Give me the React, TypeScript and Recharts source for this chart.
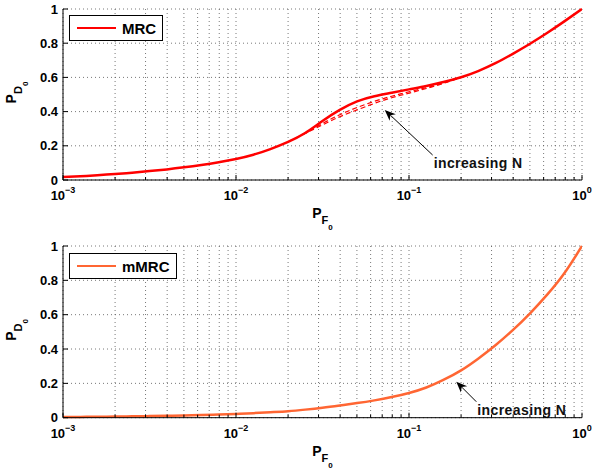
import React from "react";
import {
  LineChart,
  Line,
  XAxis,
  YAxis,
  CartesianGrid,
  ReferenceLine,
} from "recharts";

// P_F0 grid used for the curves (ten points per decade)
const pf = [
  0.001, 0.00126, 0.00158, 0.002, 0.00251, 0.00316, 0.00398, 0.00501, 0.00631,
  0.00794, 0.01, 0.0126, 0.0158, 0.02, 0.0251, 0.0316, 0.0398, 0.0501, 0.0631,
  0.0794, 0.1, 0.126, 0.158, 0.2, 0.251, 0.316, 0.398, 0.501, 0.631, 0.794, 1.0,
];

// MRC, large N (solid)
const mrc = [
  0.017, 0.022, 0.028, 0.035, 0.043, 0.052, 0.062, 0.074, 0.088, 0.104, 0.123,
  0.148, 0.181, 0.223, 0.275, 0.345, 0.41, 0.46, 0.49, 0.51, 0.53, 0.55, 0.573,
  0.601, 0.637, 0.683, 0.738, 0.797, 0.861, 0.929, 1.0,
];

// MRC, smaller N (dashed), only where they split from the solid curve
const mrcN1 = [
  null, null, null, null, null, null, null, null, null, null, null, null, null,
  0.222, 0.272, 0.322, 0.37, 0.41, 0.448, 0.481, 0.508, 0.535, 0.565, 0.6,
  null, null, null, null, null, null, null,
];
const mrcN2 = [
  null, null, null, null, null, null, null, null, null, null, null, null, null,
  0.223, 0.274, 0.33, 0.382, 0.424, 0.46, 0.49, 0.516, 0.54, 0.568, 0.6,
  null, null, null, null, null, null, null,
];

// mMRC
const mmrc = [
  0.004, 0.0047, 0.0056, 0.0067, 0.0079, 0.0094, 0.0111, 0.0132, 0.0157,
  0.0186, 0.022, 0.0265, 0.032, 0.038, 0.047, 0.058, 0.071, 0.085, 0.101, 0.12,
  0.144, 0.176, 0.22, 0.276, 0.344, 0.422, 0.51, 0.608, 0.718, 0.844, 1.0,
];

const majorX = [0.001, 0.01, 0.1, 1];
const xTicks = [
  0.001, 0.002, 0.003, 0.004, 0.005, 0.006, 0.007, 0.008, 0.009, 0.01, 0.02,
  0.03, 0.04, 0.05, 0.06, 0.07, 0.08, 0.09, 0.1, 0.2, 0.3, 0.4, 0.5, 0.6, 0.7,
  0.8, 0.9, 1,
];
const xExp = ["−3", "−2", "−1", "0"];
const yTicks = [0, 0.2, 0.4, 0.6, 0.8, 1];

const topData = pf.map((x, i) => ({
  x,
  mrc: mrc[i],
  n1: mrcN1[i],
  n2: mrcN2[i],
}));
const bottomData = pf.map((x, i) => ({ x, mmrc: mmrc[i] }));

const FONT = "'Liberation Sans', Arial, Helvetica, sans-serif";

const XTick = (props: any) => {
  const { x, y, payload, side } = props;
  const v = payload.value;
  const mi = majorX.findIndex((m) => Math.abs(m - v) < 1e-9);
  const len = mi >= 0 ? 5 : 3;
  const dir = side === "top" ? 1 : -1;
  return (
    <g>
      <line x1={x} y1={y} x2={x} y2={y + dir * len} stroke="#000" strokeWidth={1} />
      {side !== "top" && mi >= 0 && (
        <text
          x={x}
          y={y + 20}
          textAnchor="middle"
          fontFamily={FONT}
          fontWeight="bold"
          fontSize={13}
          fill="#000"
        >
          10
          <tspan dy={-7} fontSize={9}>
            {xExp[mi]}
          </tspan>
        </text>
      )}
    </g>
  );
};

const YTick = (props: any) => {
  const { x, y, payload, side } = props;
  const dir = side === "right" ? -1 : 1;
  return (
    <g>
      <line x1={x} y1={y} x2={x + dir * 5} y2={y} stroke="#000" strokeWidth={1} />
      {side !== "right" && (
        <text
          x={x - 5}
          y={y + 4.5}
          textAnchor="end"
          fontFamily={FONT}
          fontWeight="bold"
          fontSize={13}
          fill="#000"
        >
          {String(payload.value)}
        </text>
      )}
    </g>
  );
};

const XLabel = (props: any) => {
  const { viewBox } = props;
  const cx = viewBox.x + viewBox.width / 2;
  const y = viewBox.y + 38;
  return (
    <text x={cx} y={y} textAnchor="middle" fontFamily={FONT} fontWeight="bold" fill="#000">
      <tspan fontSize={14}>P</tspan>
      <tspan fontSize={11} dy={6}>F</tspan>
      <tspan fontSize={8} dy={6}>0</tspan>
    </text>
  );
};

const YLabel = (props: any) => {
  const { viewBox } = props;
  const cx = 16;
  const cy = viewBox.y + viewBox.height / 2 - 2;
  return (
    <text
      x={cx}
      y={cy}
      textAnchor="middle"
      transform={`rotate(-90, ${cx}, ${cy})`}
      fontFamily={FONT}
      fontWeight="bold"
      fill="#000"
    >
      <tspan fontSize={14}>P</tspan>
      <tspan fontSize={11} dy={6}>D</tspan>
      <tspan fontSize={8} dy={6}>0</tspan>
    </text>
  );
};

const Arrow = (props: any) => {
  const { x1, y1, x2, y2 } = props;
  const ang = Math.atan2(y2 - y1, x2 - x1);
  const L = 11;
  const W = 4.5;
  const bx = x2 - L * Math.cos(ang);
  const by = y2 - L * Math.sin(ang);
  const nx = -Math.sin(ang);
  const ny = Math.cos(ang);
  const mx = x2 - L * 0.7 * Math.cos(ang);
  const my = y2 - L * 0.7 * Math.sin(ang);
  return (
    <g>
      <line x1={x1} y1={y1} x2={mx} y2={my} stroke="#000" strokeWidth={1} />
      <polygon
        points={`${x2},${y2} ${bx + nx * W},${by + ny * W} ${mx},${my} ${bx - nx * W},${by - ny * W}`}
        fill="#000"
      />
      <text
        x={x1 + 1}
        y={y1 + 13}
        fontFamily={FONT}
        fontWeight="bold"
        fontSize={14}
        letterSpacing={0.4}
        fill="#111"
      >
        increasing N
      </text>
    </g>
  );
};

const LegendBox = ({
  label,
  color,
  left,
  top,
}: {
  label: string;
  color: string;
  left: number;
  top: number;
}) => (
  <div
    style={{
      position: "absolute",
      left,
      top,
      border: "1px solid #000",
      background: "#fff",
      display: "flex",
      alignItems: "center",
      height: 26,
      padding: "0 6px 0 7px",
      boxSizing: "border-box",
      fontFamily: FONT,
      fontWeight: "bold",
      fontSize: 15,
      color: "#000",
      whiteSpace: "nowrap",
    }}
  >
    <span
      style={{
        display: "inline-block",
        width: 39,
        height: 0,
        borderTop: `2.5px solid ${color}`,
        marginRight: 6,
      }}
    />
    {label}
  </div>
);

const commonAxes = (
  <>
    <XAxis
      dataKey="x"
      type="number"
      scale="log"
      domain={[0.001, 1]}
      ticks={xTicks}
      interval={0}
      allowDataOverflow
      tickSize={0}
      tickMargin={0}
      height={30}
      axisLine={{ stroke: "#000" }}
      tickLine={false}
      tick={<XTick />}
      label={<XLabel />}
    />
    <XAxis
      xAxisId="top"
      orientation="top"
      type="number"
      scale="log"
      domain={[0.001, 1]}
      ticks={xTicks}
      interval={0}
      allowDataOverflow
      tickSize={0}
      tickMargin={0}
      height={0}
      axisLine={{ stroke: "#000" }}
      tickLine={false}
      tick={<XTick side="top" />}
    />
    <YAxis
      type="number"
      domain={[0, 1]}
      ticks={yTicks}
      interval={0}
      width={40}
      tickSize={0}
      tickMargin={0}
      axisLine={{ stroke: "#000" }}
      tickLine={false}
      tick={<YTick />}
      label={<YLabel />}
    />
    <YAxis
      yAxisId="right"
      orientation="right"
      type="number"
      domain={[0, 1]}
      ticks={yTicks}
      interval={0}
      width={0}
      tickSize={0}
      tickMargin={0}
      axisLine={{ stroke: "#000" }}
      tickLine={false}
      tick={<YTick side="right" />}
    />
  </>
);

export default function App() {
  return (
    <div style={{ position: "absolute", left: 0, top: 0, width: 592, height: 469, background: "#fff" }}>
      <div style={{ position: "absolute", left: 0, top: 0 }}>
        <LineChart
          width={592}
          height={234}
          data={topData}
          margin={{ top: 9, right: 10, bottom: 24, left: 23 }}
        >
          <CartesianGrid stroke="#555" strokeDasharray="1 3" strokeWidth={0.8} />
          {commonAxes}
          <Line
            dataKey="n1"
            stroke="#ff0000"
            strokeWidth={1.2}
            strokeDasharray="5 3"
            dot={false}
            connectNulls={false}
            isAnimationActive={false}
            type="natural"
          />
          <Line
            dataKey="n2"
            stroke="#ff0000"
            strokeWidth={1.2}
            strokeDasharray="5 3"
            dot={false}
            connectNulls={false}
            isAnimationActive={false}
            type="natural"
          />
          <Line
            dataKey="mrc"
            stroke="#ff0000"
            strokeWidth={2.5}
            dot={false}
            isAnimationActive={false}
            type="natural"
          />
          <ReferenceLine
            segment={[
              { x: 0.137, y: 0.146 },
              { x: 0.0724, y: 0.41 },
            ]}
            shape={<Arrow />}
          />
        </LineChart>
      </div>
      <div style={{ position: "absolute", left: 0, top: 234 }}>
        <LineChart
          width={592}
          height={235}
          data={bottomData}
          margin={{ top: 12, right: 10, bottom: 21.3, left: 23 }}
        >
          <CartesianGrid stroke="#555" strokeDasharray="1 3" strokeWidth={0.8} />
          {commonAxes}
          <Line
            dataKey="mmrc"
            stroke="#ff6633"
            strokeWidth={2.5}
            dot={false}
            isAnimationActive={false}
            type="natural"
          />
          <ReferenceLine
            segment={[
              { x: 0.245, y: 0.093 },
              { x: 0.1876, y: 0.21 },
            ]}
            shape={<Arrow />}
          />
        </LineChart>
      </div>
      <LegendBox label="MRC" color="#ff0000" left={69} top={15} />
      <LegendBox label="mMRC" color="#ff6633" left={69} top={253} />
    </div>
  );
}
